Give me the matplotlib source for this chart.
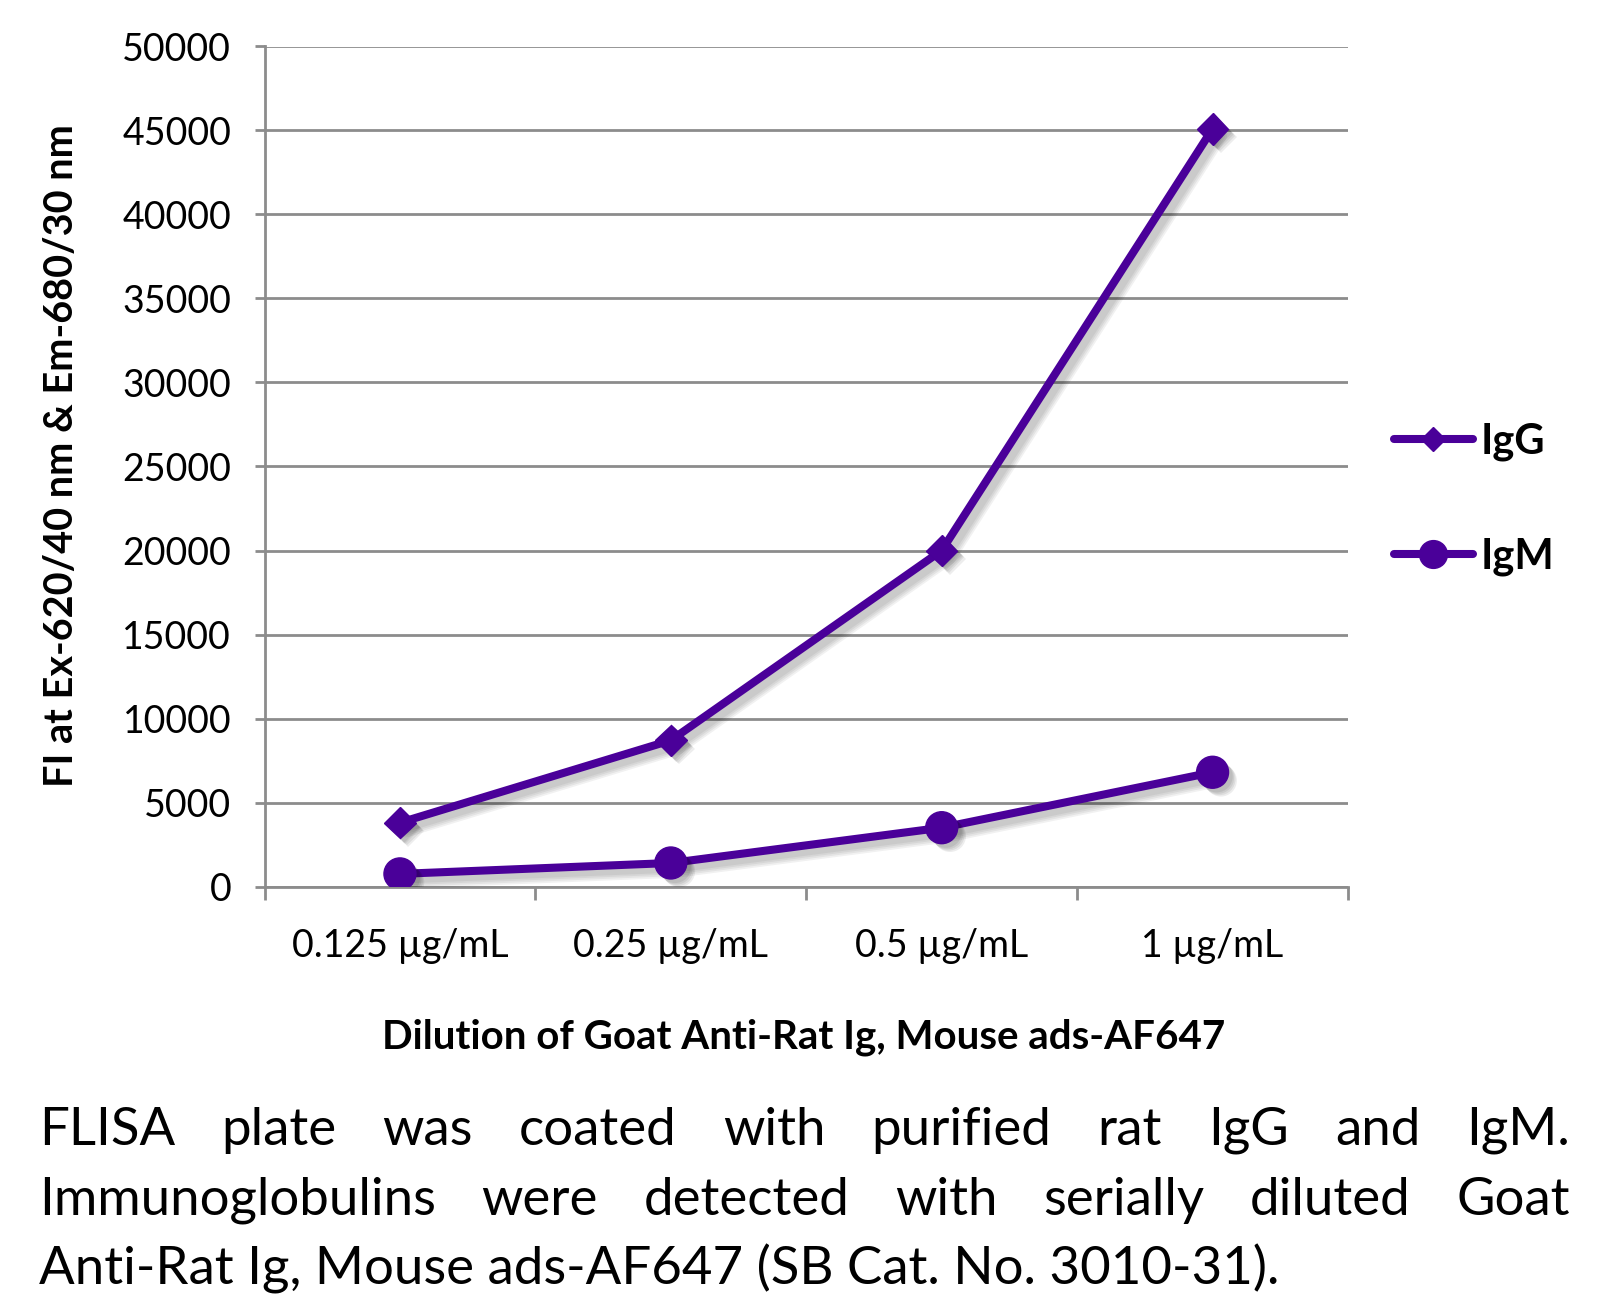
import matplotlib
matplotlib.use('Agg')
import matplotlib.pyplot as plt
import matplotlib.patheffects as pe
from matplotlib.lines import Line2D

plt.rcParams['font.family'] = ['Lato', 'DejaVu Sans']

categories = ['0.125 µg/mL', '0.25 µg/mL', '0.5 µg/mL', '1 µg/mL']
igg = [3800, 8700, 20000, 45100]
igm = [750, 1400, 3500, 6800]
yticks = [0, 5000, 10000, 15000, 20000, 25000, 30000, 35000, 40000, 45000, 50000]
caption = [
    "FLISA plate was coated with purified rat IgG and IgM.",
    "Immunoglobulins were detected with serially diluted Goat",
    "Anti-Rat Ig, Mouse ads-AF647 (SB Cat. No. 3010-31).",
]

W, H = 1620, 1306
purple = '#4a0099'
grey = '#8c8c8c'

fig = plt.figure(figsize=(W/100, H/100), dpi=100)
ax = fig.add_axes([264.5/W, 1-886.5/H, (1348-264.5)/W, (886.5-46.5)/H])

x = [i + 0.5 for i in range(len(categories))]

# soft drop shadow: a few stacked, slightly wider, faint copies
line_fx = [pe.SimpleLineShadow(offset=(4, -4), shadow_color='k', alpha=0.055, linewidth=5.8 + 2.5*k)
           for k in range(4)] + [pe.Normal()]
mark_fx = [pe.SimplePatchShadow(offset=(3 + k, -3 - k), shadow_rgbFace='k', alpha=0.07)
           for k in range(4)] + [pe.Normal()]

for vals, m, ms in [(igg, 'D', 16), (igm, 'o', 23)]:
    ax.plot(x, vals, color=purple, lw=5.8, solid_capstyle='round', path_effects=line_fx, zorder=3)
    ax.plot(x, vals, ls='none', marker=m, ms=ms, color=purple, mec=purple, path_effects=mark_fx, zorder=4)

ax.set_xlim(0, 4)
ax.set_ylim(0, 50000)
ax.set_yticks(yticks)
ax.set_yticklabels([str(v) for v in yticks])
ax.set_xticks(x)
ax.set_xticklabels(categories)
ax.set_xticks(range(5), minor=True)
ax.tick_params(axis='x', which='major', length=0, labelsize=27, pad=30)
ax.tick_params(axis='x', which='minor', length=9, width=2, color=grey, direction='out')
ax.tick_params(axis='y', length=7, width=2, color=grey, labelsize=27, pad=17)
ax.yaxis.grid(True, color=grey, lw=2)
ax.set_axisbelow(True)
for s in ['top', 'right']:
    ax.spines[s].set_visible(False)
for s in ['left', 'bottom']:
    ax.spines[s].set_color(grey)
    ax.spines[s].set_linewidth(2)

fig.text(62/W, 1-456/H, 'FI at Ex-620/40 nm & Em-680/30 nm', rotation=90,
         ha='center', va='center', fontsize=28.5, fontweight='bold')
fig.text(804/W, 1-1037/H, 'Dilution of Goat Anti-Rat Ig, Mouse ads-AF647',
         ha='center', va='center', fontsize=29, fontweight='bold')

handles = [Line2D([], [], color=purple, lw=5.8, marker='D', ms=12.5, solid_capstyle='round'),
           Line2D([], [], color=purple, lw=5.8, marker='o', ms=20, solid_capstyle='round')]
fig.legend(handles, ['IgG', 'IgM'], loc='center left', bbox_to_anchor=(1356/W, 1-499/H),
           frameon=False, handlelength=1.9, handletextpad=0.2, labelspacing=1.83,
           prop={'weight': 'bold', 'size': 30})

# justified caption
left, right = 39, 1570
baselines = [1145, 1215, 1284]
fs = 38
fig.canvas.draw()
r = fig.canvas.get_renderer()
for i, line in enumerate(caption):
    yb = 1 - baselines[i]/H
    if i == len(caption) - 1:
        fig.text(left/W, yb, line, fontsize=fs, va='baseline', ha='left')
        continue
    words = line.split(' ')
    texts = [fig.text(0, yb, w, fontsize=fs, va='baseline', ha='left') for w in words]
    widths = [t.get_window_extent(r).width for t in texts]
    gap = (right - left - sum(widths)) / (len(words) - 1)
    xp = left
    for t, w in zip(texts, widths):
        t.set_x(xp/W)
        xp += w + gap

fig.savefig('out.png', dpi=100)
